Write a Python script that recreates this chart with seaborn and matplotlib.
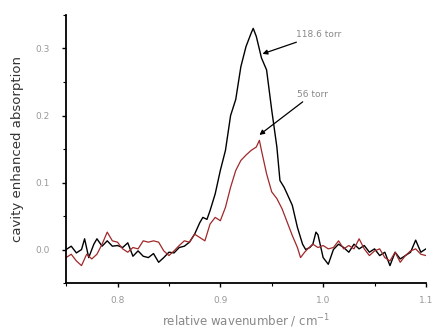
import matplotlib
matplotlib.use("Agg")
import matplotlib.pyplot as plt
import seaborn as sns
import pandas as pd

x_high = [0.75, 0.755, 0.76, 0.765, 0.768, 0.772, 0.777, 0.78, 0.785, 0.79, 0.795, 0.80, 0.805, 0.81, 0.815,
          0.82, 0.825, 0.83, 0.835, 0.84, 0.845, 0.85, 0.855, 0.86, 0.865, 0.87, 0.875, 0.88, 0.883, 0.887,
          0.89, 0.895, 0.90, 0.905, 0.91, 0.915, 0.92, 0.925, 0.93, 0.932, 0.935, 0.94, 0.945, 0.95, 0.955,
          0.958, 0.962, 0.965, 0.97, 0.975, 0.98, 0.983, 0.987, 0.99, 0.993, 0.995, 1.0, 1.005, 1.01, 1.015,
          1.02, 1.025, 1.03, 1.035, 1.04, 1.045, 1.05, 1.055, 1.06, 1.065, 1.07, 1.075, 1.08, 1.085, 1.09,
          1.095, 1.1]
y_high = [0.0, 0.005, -0.005, 0.0, 0.016, -0.012, 0.008, 0.016, 0.005, 0.013, 0.005, 0.006, 0.003, 0.01, -0.01,
          -0.002, -0.01, -0.012, -0.006, -0.019, -0.012, -0.004, -0.005, 0.003, 0.005, 0.011, 0.023, 0.04, 0.048, 0.045,
          0.058, 0.083, 0.118, 0.148, 0.2, 0.224, 0.273, 0.303, 0.323, 0.33, 0.318, 0.286, 0.268, 0.208, 0.153,
          0.103, 0.093, 0.083, 0.066, 0.033, 0.008, 0.0, 0.003, 0.008, 0.026, 0.022, -0.012, -0.022, 0.0, 0.008,
          0.003, -0.004, 0.008, 0.001, 0.006, -0.004, 0.001, -0.009, -0.004, -0.024, -0.004, -0.014, -0.009, -0.004, 0.014,
          -0.004, 0.001]

x_low = [0.75, 0.755, 0.76, 0.765, 0.77, 0.775, 0.78, 0.785, 0.79, 0.795, 0.80, 0.805, 0.81, 0.815, 0.82,
         0.825, 0.83, 0.835, 0.84, 0.845, 0.85, 0.855, 0.86, 0.865, 0.87, 0.875, 0.88, 0.885, 0.89, 0.895,
         0.90, 0.905, 0.91, 0.915, 0.92, 0.925, 0.93, 0.935, 0.938, 0.94, 0.945, 0.95, 0.955, 0.96, 0.965,
         0.97, 0.975, 0.978, 0.982, 0.985, 0.99, 0.995, 1.0, 1.005, 1.01, 1.015, 1.02, 1.025, 1.03, 1.035,
         1.04, 1.045, 1.05, 1.055, 1.06, 1.065, 1.07, 1.075, 1.08, 1.085, 1.09, 1.095, 1.1]
y_low = [-0.012, -0.007, -0.017, -0.024, -0.007, -0.014, -0.007, 0.008, 0.026, 0.013, 0.011, 0.001, -0.004, 0.003, 0.001,
         0.013, 0.011, 0.013, 0.011, -0.002, -0.009, -0.002, 0.006, 0.013, 0.011, 0.023, 0.018, 0.013, 0.038, 0.048,
         0.043, 0.063, 0.093, 0.118, 0.133, 0.141, 0.148, 0.153, 0.163, 0.148, 0.113, 0.086, 0.076, 0.061, 0.041,
         0.021, 0.003, -0.012, -0.004, 0.001, 0.008, 0.003, 0.006, 0.001, 0.003, 0.013, 0.001, 0.006, 0.001, 0.016,
         0.001, -0.009, -0.002, 0.001, -0.012, -0.017, -0.004, -0.019, -0.009, -0.002, 0.001, -0.007, -0.009]

label_high = "118.6 torr"
label_low = "56 torr"

sns.set_style("ticks")
plt.rcParams['font.family'] = ['DejaVu Sans']

fig = plt.figure(figsize=(4.32, 3.33), dpi=100)
ax = fig.add_axes([0.153, 0.150, 0.833, 0.805])

df_high = pd.DataFrame({"x": x_high, "y": y_high})
df_low = pd.DataFrame({"x": x_low, "y": y_low})
sns.lineplot(data=df_high, x="x", y="y", ax=ax, color="black", lw=1.0, estimator=None, sort=False)
sns.lineplot(data=df_low, x="x", y="y", ax=ax, color="#a0282a", lw=0.9, estimator=None, sort=False)

ax.set_xlim(0.75, 1.1)
ax.set_ylim(-0.05, 0.35)
ax.set_xticks([0.8, 0.9, 1.0, 1.1])
ax.set_xticklabels(["0.8", "0.9", "1.0", "1.1"])
ax.set_xticks([0.75, 0.85, 0.95, 1.05], minor=True)
ax.set_yticks([0.0, 0.1, 0.2, 0.3])
ax.set_yticklabels(["0.0", "0.1", "0.2", "0.3"])
ax.set_yticks([-0.05, 0.05, 0.15, 0.25, 0.35], minor=True)
ax.tick_params(axis="both", which="major", labelsize=6.5, labelcolor="#999999", length=3, width=1, color="black")
ax.tick_params(axis="y", which="major", pad=9)
ax.tick_params(axis="x", which="major", pad=6)
ax.tick_params(axis="both", which="minor", length=2, width=0.8, color="black")
for s in ["left", "bottom"]:
    ax.spines[s].set_linewidth(1.3)
    ax.spines[s].set_color("black")
sns.despine(ax=ax)

ax.set_xlabel("relative wavenumber / cm$^{-1}$", fontsize=8.5, color="#888888", labelpad=6)
ax.set_ylabel("cavity enhanced absorption", fontsize=9.5, color="#333333", labelpad=8)

ax.annotate(label_high, xy=(0.941, 0.292), xytext=(0.974, 0.321), fontsize=6.5, color="#888888",
            va="center", ha="left",
            arrowprops=dict(arrowstyle="-|>", color="black", lw=0.9, mutation_scale=7, shrinkA=0, shrinkB=0))
ax.annotate(label_low, xy=(0.938, 0.171), xytext=(0.975, 0.232), fontsize=6.5, color="#888888",
            va="center", ha="left",
            arrowprops=dict(arrowstyle="-|>", color="black", lw=0.9, mutation_scale=7, shrinkA=0, shrinkB=0))

fig.savefig("out.png", dpi=100)
